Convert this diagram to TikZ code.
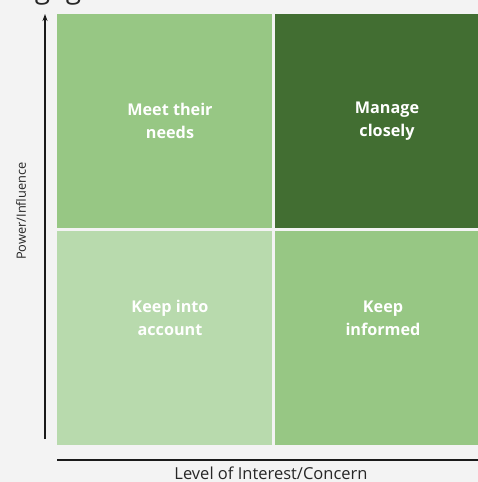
\documentclass[tikz,border=0pt]{standalone}
\usepackage{fontspec}
\setmainfont{Open Sans}
\usetikzlibrary{arrows.meta}

\definecolor{bgcol}{HTML}{F3F3F3}
\definecolor{midgreen}{HTML}{97C784}
\definecolor{darkgreen}{HTML}{426E32}
\definecolor{palegreen}{HTML}{B8DAAD}
\definecolor{axiscol}{HTML}{1A1A1A}

\tikzset{
  quad/.style={fill=#1, draw=none},
  quadlabel/.style={text=white, font=\fontsize{16.2}{23}\selectfont\bfseries,
    align=center, inner sep=0pt},
  axisline/.style={draw=axiscol, line width=1.3pt},
  axislabel/.style={text=black!85, inner sep=0pt},
}

\begin{document}
\begin{tikzpicture}[x=1pt, y=-1pt]
  % canvas
  \fill[bgcol] (0,0) rectangle (478,482);
  \useasboundingbox (0,0) rectangle (478,482);

  % heading, running off the top edge
  \node[anchor=base west, inner sep=0pt, font=\fontsize{28}{32}\selectfont, text=black!85]
    (heading) at (2,-1.5) {Engagement with Interested};

  % the four quadrants
  \fill[quad=midgreen]  (57,14)  rectangle (272,228);
  \fill[quad=darkgreen] (275,14) rectangle (482,228);
  \fill[quad=palegreen] (57,231) rectangle (272,445);
  \fill[quad=midgreen]  (275,231) rectangle (482,445);

  \node[quadlabel] (meet)    at (170,121) {Meet their\\needs};
  \node[quadlabel] (manage)  at (387,121) {Manage\\closely};
  \node[quadlabel] (account) at (170,318) {Keep into\\account};
  \node[quadlabel] (inform)  at (383,318) {Keep\\informed};

  % axes
  \coordinate (ybottom) at (45,439);
  \coordinate (ytop)    at (45,14);
  \coordinate (xleft)   at (57,460);
  \coordinate (xright)  at (482,460);
  \draw[axisline, -{Stealth[length=7pt, width=5pt]}] (ybottom) -- (ytop);
  \draw[axisline] (xleft) -- (xright);

  \node[axislabel, anchor=base, font=\fontsize{16.5}{20}\selectfont] (xlabel) at (271,479.5) {Level of Interest/Concern};
  \node[axislabel, font=\fontsize{12.8}{15}\selectfont, rotate=90] (ylabel) at (21,211) {Power/Influence};
\end{tikzpicture}
\end{document}
